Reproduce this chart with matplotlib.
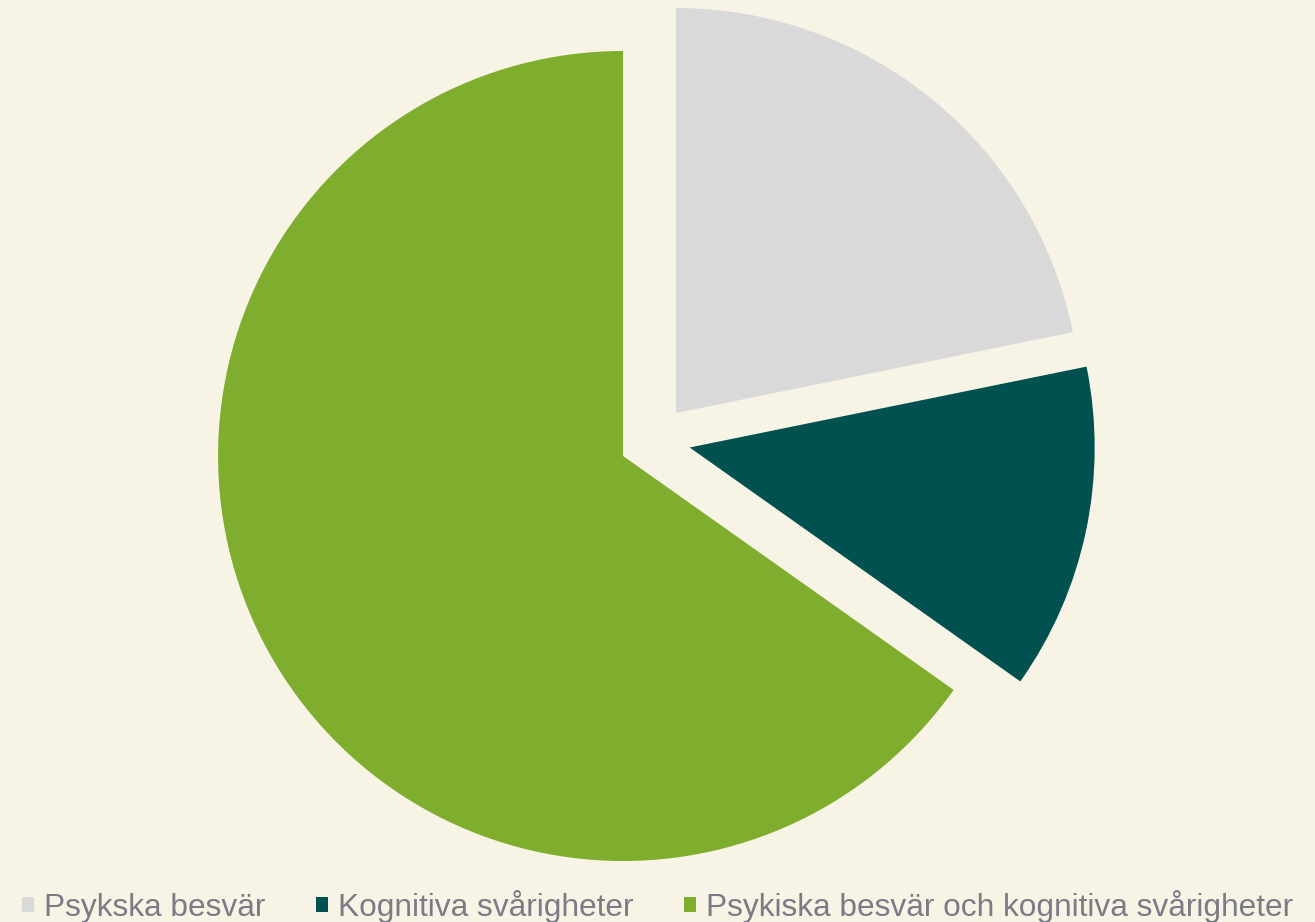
import matplotlib.pyplot as plt

# andel per kategori
labels = ["Psykska besvär", "Kognitiva svårigheter",
          "Psykiska besvär och kognitiva svårigheter"]
values = [21.8, 13.0, 65.2]
colors = ["#D9D9D9", "#00514F", "#7FAD2D"]
explode = [0.086, 0.09, 0.086]

bg = "#F7F3E5"

fig = plt.figure(figsize=(13.15, 9.22), dpi=100, facecolor=bg)
ax = fig.add_axes([0, 0, 1, 1])
ax.set_facecolor(bg)

wedges, _ = ax.pie(values, colors=colors, explode=explode, startangle=90,
                   counterclock=False, radius=1)

# pie centre ~ (654, 440) px, radius ~405 px
r_px = 405.0
ax.set_aspect("auto")
ax.set_xlim(-654 / r_px, (1315 - 654) / r_px)
ax.set_ylim(-(922 - 440) / r_px, 440 / r_px)
ax.axis("off")

leg = fig.legend(wedges, labels, loc="center", bbox_to_anchor=(0.5, 0.017),
                 ncol=3, frameon=False, borderpad=0,
                 handlelength=0.38, handleheight=0.38, handletextpad=0.32,
                 columnspacing=1.6, prop={"family": "Liberation Sans", "size": 22.8})
for t in leg.get_texts():
    t.set_color("#7B7B85")

fig.savefig("out.png", dpi=100, facecolor=bg)
